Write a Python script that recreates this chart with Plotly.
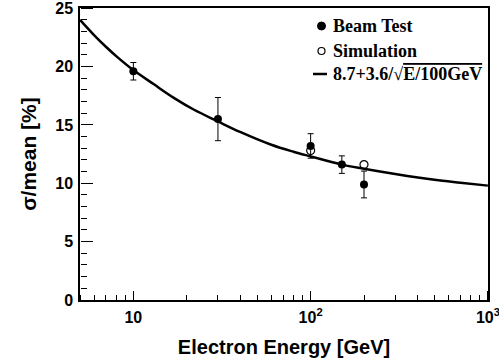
import plotly.graph_objects as go

# Data
beam_E = [10, 30, 100, 150, 200]
beam_res = [19.6, 15.5, 13.2, 11.6, 9.9]
beam_err = [0.75, 1.85, 1.05, 0.75, 1.15]

sim_E = [100, 200]
sim_res = [12.8, 11.6]

curve_E = [5, 6, 7, 8, 10, 13, 17, 22, 30, 40, 60, 80, 100, 150, 200, 300, 500, 700, 1000]
curve_val = [24.0, 22.7, 21.7, 20.9, 19.7, 18.5, 17.3, 16.3, 15.3, 14.4, 13.3,
             12.7, 12.3, 11.6, 11.25, 10.8, 10.3, 10.05, 9.8]

x_tickvals = [10, 100, 1000]
x_ticktext = ["<b>10</b>", "<b>10<sup>2</sup></b>", "<b>10<sup>3</sup></b>"]

legend_labels = ["Beam Test", "Simulation",
                 "8.7+3.6/√<span style='text-decoration:overline'>E/100GeV</span>"]

serif = "Liberation Serif"
sans = "Liberation Sans"

# plot-area geometry (pixels)
W, H = 499, 358
L, R, T, B = 80, 11, 8, 58
PW, PH = W - L - R, H - T - B
X_RANGE = [0.69897, 3.0005]
Y_RANGE = [0, 25.02]


def px(xp):
    return (xp - L) / PW


def py(yp):
    return (H - B - yp) / PH


fig = go.Figure()

fig.add_trace(go.Scatter(
    x=beam_E, y=beam_res, mode="markers", name=legend_labels[0],
    marker=dict(symbol="circle", size=8, color="black"),
    error_y=dict(type="data", array=beam_err, color="black", thickness=1, width=3),
))
fig.add_trace(go.Scatter(
    x=sim_E, y=sim_res, mode="markers", name=legend_labels[1],
    marker=dict(symbol="circle-open", size=8, color="black", line=dict(width=1.2)),
))
fig.add_trace(go.Scatter(
    x=curve_E, y=curve_val, mode="lines", line_shape="spline",
    name=legend_labels[2],
    line=dict(color="black", width=2.5),
))
# invisible copy on the overlay axes that carry the inward-pointing ticks
fig.add_trace(go.Scatter(
    x=curve_E, y=curve_val, mode="lines", xaxis="x2", yaxis="y2",
    line=dict(color="rgba(0,0,0,0)", width=0), hoverinfo="skip", showlegend=False,
))

# custom legend
rows_y = [26, 51, 74]
annotations = []
for lab, yy in zip(legend_labels, rows_y):
    annotations.append(dict(
        xref="paper", yref="paper", x=px(331), y=py(yy), xanchor="left", yanchor="middle",
        text="<b>" + lab + "</b>", showarrow=False,
        font=dict(family=serif, size=18, color="black"),
    ))
shapes = [
    dict(type="circle", xref="paper", yref="paper", xsizemode="pixel", ysizemode="pixel",
         xanchor=px(321.5), yanchor=py(rows_y[0]), x0=-4, x1=4, y0=-4, y1=4,
         fillcolor="black", line=dict(color="black", width=1)),
    dict(type="circle", xref="paper", yref="paper", xsizemode="pixel", ysizemode="pixel",
         xanchor=px(321.5), yanchor=py(rows_y[1]), x0=-3.5, x1=3.5, y0=-3.5, y1=3.5,
         fillcolor="white", line=dict(color="black", width=1.2)),
    dict(type="line", xref="paper", yref="paper", x0=px(313), x1=px(327),
         y0=py(rows_y[2]), y1=py(rows_y[2]), line=dict(color="black", width=2.5)),
]

fig.update_layout(
    width=W, height=H,
    margin=dict(l=L, r=R, t=T, b=B),
    paper_bgcolor="white", plot_bgcolor="white",
    showlegend=False,
    annotations=annotations,
    shapes=shapes,
    xaxis=dict(
        type="log", range=X_RANGE, automargin=False,
        tickvals=x_tickvals, ticktext=x_ticktext,
        ticks="", ticklabelstandoff=2,
        ticklabeloverflow="allow",
        showline=True, linecolor="black", linewidth=1.5, mirror=True,
        showgrid=False, zeroline=False,
        tickfont=dict(family=sans, size=16, color="black"),
        title=dict(text="<b>Electron Energy [GeV]</b>",
                   font=dict(family=sans, size=20, color="black")),
    ),
    yaxis=dict(
        range=Y_RANGE, automargin="left",
        tick0=0, dtick=5, ticks="", ticklabelstandoff=2,
        ticklabeloverflow="allow",
        showline=True, linecolor="black", linewidth=1.5, mirror=True,
        showgrid=False, zeroline=False,
        tickfont=dict(family=sans, size=16, color="black", weight="bold"),
        title=dict(text="<b>σ/mean [%]</b>", standoff=13,
                   font=dict(family=sans, size=21, color="black")),
    ),
    xaxis2=dict(
        type="log", range=X_RANGE, overlaying="x", side="top", anchor="free", position=0,
        tickvals=x_tickvals, ticks="outside", ticklen=9, tickwidth=1.2, tickcolor="black",
        minor=dict(dtick="D1", ticks="outside", ticklen=5, tickwidth=1, tickcolor="black"),
        showticklabels=False, showline=False, showgrid=False, zeroline=False,
        automargin=False,
    ),
    yaxis2=dict(
        range=Y_RANGE, overlaying="y", side="right", anchor="free", position=0,
        tick0=0, dtick=5, ticks="outside", ticklen=12, tickwidth=1.2, tickcolor="black",
        minor=dict(dtick=1, ticks="outside", ticklen=6, tickwidth=1, tickcolor="black"),
        showticklabels=False, showline=False, showgrid=False, zeroline=False,
        automargin=False,
    ),
)

fig.write_html("out.html")
